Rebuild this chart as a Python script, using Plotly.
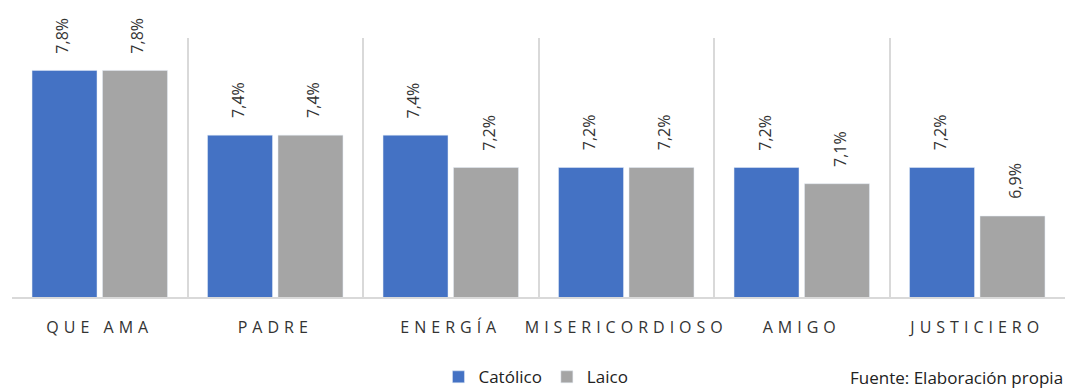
import plotly.graph_objects as go

categories = ["QUE AMA", "PADRE", "ENERGÍA", "MISERICORDIOSO", "AMIGO", "JUSTICIERO"]
catolico = [7.8, 7.4, 7.4, 7.2, 7.2, 7.2]
laico = [7.8, 7.4, 7.2, 7.2, 7.1, 6.9]
series_names = ["Católico", "Laico"]
source_text = "Fuente: Elaboración propia"

BLUE = "#4472C4"
GRAY = "#A5A5A5"
FONT = "Open Sans"
TXT = "#333333"

fig = go.Figure()
fig.add_trace(go.Bar(x=categories, y=catolico, name=series_names[0], marker_color=BLUE))
fig.add_trace(go.Bar(x=categories, y=laico, name=series_names[1], marker_color=GRAY))

# value labels above bars
for vals, shift in ((catolico, -37.5), (laico, 37.5)):
    for c, v in zip(categories, vals):
        fig.add_annotation(x=c, y=v, text=f"{v:.1f}%".replace(".", ","),
                           textangle=-90, showarrow=False, xshift=shift, yshift=15,
                           yanchor="bottom", xanchor="center",
                           font=dict(family=FONT, size=16, color=TXT))

fig.add_annotation(x=1, xref="paper", y=-0.31, yref="paper", text=source_text,
                   showarrow=False, xanchor="right", yanchor="middle",
                   font=dict(family=FONT, size=17, color="#222222"))

ticktext = [f'<span style="letter-spacing:5px">{c}</span>' for c in categories]

fig.update_layout(
    width=1070, height=389,
    margin=dict(l=12, r=5, t=38, b=92, autoexpand=False),
    paper_bgcolor="white", plot_bgcolor="white",
    barmode="group", bargap=0.197, bargroupgap=0.078,
    showlegend=True,
    legend=dict(orientation="h", x=0.405, xanchor="left", y=-0.31, yanchor="middle",
                font=dict(family=FONT, size=17, color="#222222"), itemwidth=30),
    font=dict(family=FONT),
)
fig.update_xaxes(tickson="boundaries", showgrid=True, gridcolor="#D9D9D9", gridwidth=1.5,
                 showline=True, linecolor="#D9D9D9", linewidth=1.5, ticks="",
                 tickvals=categories, ticktext=ticktext, ticklabelstandoff=15,
                 tickangle=0, automargin=False,
                 tickfont=dict(family=FONT, size=16, color=TXT))
fig.update_yaxes(range=[6.4, 8.0], visible=False)

fig.write_html("out.html")
